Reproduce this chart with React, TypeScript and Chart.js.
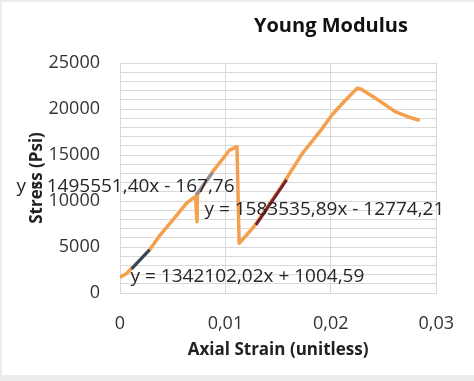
import React, { useEffect, useRef } from "react";
import { Chart, registerables } from "chart.js";

Chart.register(...registerables);

// Stress–strain curve (orange)
const strain = [0, 0.0006, 0.0011, 0.0028, 0.0038, 0.005, 0.0063, 0.0069, 0.00716, 0.0073, 0.00735, 0.0088, 0.0104, 0.0111, 0.0113, 0.0127, 0.0154, 0.0173, 0.0192, 0.0201, 0.0214, 0.0225, 0.0229, 0.0245, 0.0261, 0.0273, 0.0283];
const stress = [1700, 2100, 2680, 4670, 6300, 7930, 9750, 10290, 10470, 7750, 10700, 13200, 15540, 15900, 5400, 7200, 11740, 15180, 17900, 19350, 20980, 22250, 22140, 20980, 19710, 19160, 18800];

// Trendline segments (endpoints)
const trend1X = [0.0011, 0.0028];
const trend1Y = [2600, 4700];
const trend2X = [0.0072, 0.0088];
const trend2Y = [10650, 13100];
const trend3X = [0.0129, 0.0158];
const trend3Y = [7400, 12300];

// Trendline equation labels and their anchor (data units)
const eqTexts = ["y = 1495551,40x - 167,76", "y = 1583535,89x - 12774,21", "y = 1342102,02x + 1004,59"];
const eqX = [0.00052, 0.01939, 0.01209];
const eqY = [11550, 9020, 1770];

const xTicks = [0, 0.01, 0.02, 0.03];
const yMajor = [0, 5000, 10000, 15000, 20000, 25000];

const titleText = "Young Modulus";
const xTitle = "Axial Strain (unitless)";
const yTitle = "Stress (Psi)";

const FONT = "'Open Sans', sans-serif";

const zip = (xs: number[], ys: number[]) => xs.map((x, i) => ({ x, y: ys[i] }));

export default function App() {
  const ref = useRef<HTMLCanvasElement>(null);
  useEffect(() => {
    document.body.style.margin = "0";
    const bgPlugin = {
      id: "bg",
      beforeDraw(chart: any) {
        const { ctx, width, height } = chart;
        ctx.save();
        ctx.fillStyle = "#ececec";
        ctx.fillRect(0, 0, width, height);
        ctx.fillStyle = "#ffffff";
        ctx.fillRect(2, 2, width - 2, height - 8);
        ctx.restore();
      },
    };
    const textPlugin = {
      id: "texts",
      afterDatasetsDraw(chart: any) {
        const { ctx, scales, chartArea } = chart;
        ctx.save();
        ctx.fillStyle = "#262626";
        ctx.font = `19px ${FONT}`;
        ctx.textAlign = "center";
        ctx.textBaseline = "middle";
        eqTexts.forEach((t, i) => {
          ctx.fillText(t, scales.x.getPixelForValue(eqX[i]), scales.y.getPixelForValue(eqY[i]));
        });
        ctx.fillStyle = "#111111";
        ctx.font = `bold 20px ${FONT}`;
        const cx = chartArea.left + (chartArea.right - chartArea.left) * 0.667;
        ctx.fillText(titleText, cx, 26);
        ctx.restore();
      },
    };
    const chart = new Chart(ref.current!, {
      type: "scatter",
      data: {
        datasets: [
          { data: zip(trend1X, trend1Y), showLine: true, borderColor: "#2b4868", borderWidth: 3, pointRadius: 0, order: 0 },
          { data: zip(trend2X, trend2Y), showLine: true, borderColor: "#8c8f9e", borderWidth: 3, pointRadius: 0, order: 0 },
          { data: zip(trend3X, trend3Y), showLine: true, borderColor: "#74222e", borderWidth: 3, pointRadius: 0, order: 0 },
          { data: zip(strain, stress), showLine: true, borderColor: "#f4a04e", borderWidth: 3.5, pointRadius: 0, order: 1, borderJoinStyle: "round", borderCapStyle: "round" },
        ],
      },
      options: {
        animation: false,
        responsive: true,
        maintainAspectRatio: false,
        layout: { padding: { top: 63, right: 36, left: 0, bottom: 0 } },
        plugins: { legend: { display: false }, tooltip: { enabled: false }, title: { display: false } },
        scales: {
          x: {
            type: "linear",
            min: 0,
            max: 0.03,
            afterBuildTicks: (s: any) => { s.ticks = xTicks.map((v) => ({ value: v })); },
            afterFit: (s: any) => { s.height = 88; },
            grid: { color: "#d9d9d9", drawTicks: false },
            border: { color: "#d9d9d9" },
            ticks: {
              padding: 20,
              maxRotation: 0,
              autoSkip: false,
              color: "#333333",
              font: { family: FONT, size: 18 },
              callback: (v: any) => (v === 0 ? "0" : Number(v).toFixed(2).replace(".", ",")),
            },
            title: { display: true, text: xTitle, color: "#222222", font: { family: FONT, size: 17, weight: "bold" }, padding: { top: 0, bottom: 21 } },
          },
          y: {
            type: "linear",
            min: 0,
            max: 25000,
            afterFit: (s: any) => { s.width = 120; },
            grid: { color: "#d9d9d9", drawTicks: false },
            border: { color: "#d9d9d9" },
            ticks: {
              stepSize: 1000,
              padding: 20,
              autoSkip: false,
              color: "#333333",
              font: { family: FONT, size: 18 },
              callback: (v: any) => (yMajor.includes(Number(v)) ? String(v) : ""),
            },
            title: { display: true, text: yTitle, color: "#222222", font: { family: FONT, size: 17, weight: "bold" }, padding: { top: 27, bottom: 0 } },
          },
        },
      },
      plugins: [bgPlugin, textPlugin],
    });
    return () => chart.destroy();
  }, []);
  return (
    <div style={{ width: 474, height: 381, position: "relative" }}>
      <canvas ref={ref} />
    </div>
  );
}
